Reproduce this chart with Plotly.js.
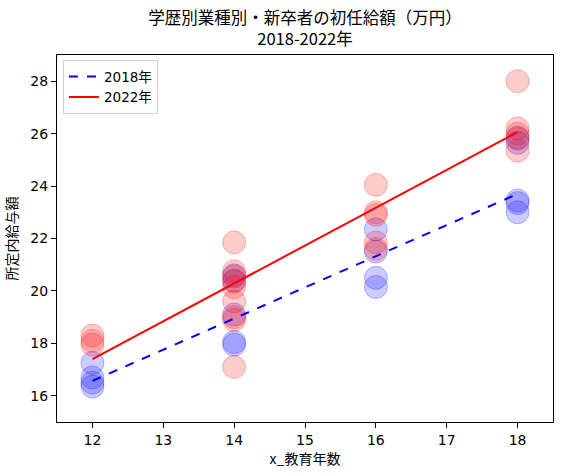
<!DOCTYPE html>
<html><head><meta charset="utf-8">
<script src="https://cdn.plot.ly/plotly-3.0.1.min.js"></script>
<style>body{margin:0;padding:0;background:#fff}#chart{width:562px;height:476px}</style>
</head><body><div id="chart"></div>
<script>
// Observed points (x = years of education)
const xLevels = [12, 14, 16, 18];
const y2018_12 = [17.25, 16.7, 16.5, 16.35];
const y2018_14 = [20.6, 20.4, 19.1, 18.05, 17.95];
const y2018_16 = [22.35, 21.5, 20.5, 20.15];
const y2018_18 = [25.85, 25.65, 23.45, 23.35, 23.0];
const y2022_12 = [18.3, 18.1, 17.95];
const y2022_14 = [21.85, 20.75, 20.55, 20.35, 20.15, 19.6, 19.0, 18.9, 17.1];
const y2022_16 = [24.05, 23.0, 22.9, 21.85, 21.6];
const y2022_18 = [28.0, 26.2, 26.0, 25.8, 25.35];
// Fitted lines
const fitX = [12, 18];
const fit2018 = [16.57, 23.7];
const fit2022 = [17.4, 26.06];
const titleLine1 = '学歴別業種別・新卒者の初任給額（万円）';
const titleLine2 = '2018-2022年';

function flatten(groups){
  const xs=[], ys=[];
  groups.forEach((g,i)=>g.forEach(v=>{xs.push(xLevels[i]); ys.push(v);}));
  return {xs, ys};
}
const b = flatten([y2018_12,y2018_14,y2018_16,y2018_18]);
const r = flatten([y2022_12,y2022_14,y2022_16,y2022_18]);

const font = 'DejaVu Sans, Noto Sans CJK JP, sans-serif';
const jp = 'Noto Sans CJK JP, sans-serif';
const traces = [
  {x:b.xs, y:b.ys, type:'scatter', mode:'markers', showlegend:false,
   marker:{size:23, color:'rgba(0,0,255,0.2)', line:{color:'rgba(0,0,255,0.25)', width:1}}},
  {x:r.xs, y:r.ys, type:'scatter', mode:'markers', showlegend:false,
   marker:{size:23, color:'rgba(255,0,0,0.2)', line:{color:'rgba(255,0,0,0.25)', width:1}}},
  {x:fitX, y:fit2018, type:'scatter', mode:'lines', name:'2018年',
   line:{color:'#0000ff', width:2, dash:'dash'}},
  {x:fitX, y:fit2022, type:'scatter', mode:'lines', name:'2022年',
   line:{color:'#ff0000', width:2}}
];
const axisCommon = {showline:true, mirror:true, linecolor:'#000', linewidth:1,
  ticks:'outside', ticklen:5, tickcolor:'#000', showgrid:false, zeroline:false,
  tickfont:{size:14, color:'#000', family:font}};
const layout = {
  width:562, height:476, paper_bgcolor:'#fff', plot_bgcolor:'#fff',
  margin:{l:57, r:9, t:55, b:54},
  font:{family:font, color:'#000'},
  title:{text:titleLine1 + '<br>' + titleLine2, x:0.5, xref:'paper', xanchor:'center',
    y:1, yref:'paper', yanchor:'bottom', pad:{b:31},
    font:{size:16.5, family:jp, color:'#000'}},
  xaxis:Object.assign({}, axisCommon, {range:[11.5,18.5], dtick:1, tick0:12,
    title:{text:'x_教育年数', font:{size:14, family:jp}, standoff:7}}),
  yaxis:Object.assign({}, axisCommon, {range:[15,29], dtick:2, tick0:16,
    title:{text:'所定内給与額', font:{size:14, family:jp}, standoff:9}}),
  legend:{x:0.012, y:0.986, xanchor:'left', yanchor:'top', bgcolor:'rgba(255,255,255,0.8)',
    bordercolor:'#d0d0d0', borderwidth:1, font:{size:13.5, family:font}, tracegroupgap:0}
};
Plotly.newPlot('chart', traces, layout, {displayModeBar:false, staticPlot:true});
</script></body></html>
